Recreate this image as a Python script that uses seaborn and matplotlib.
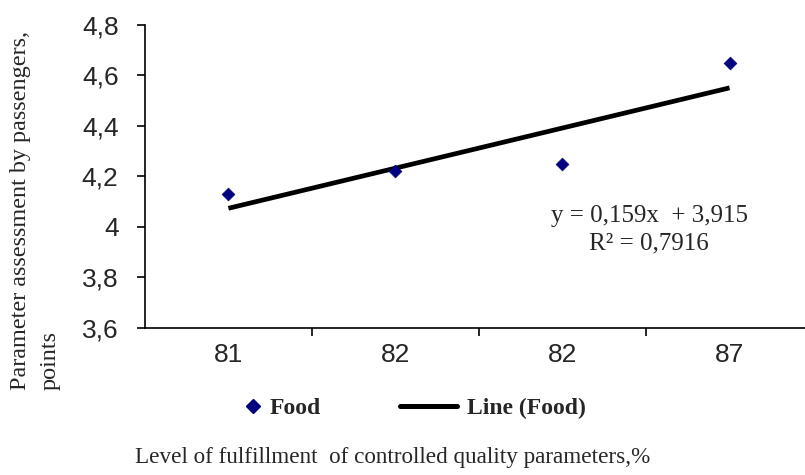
import numpy as np
import pandas as pd
import matplotlib.pyplot as plt
import seaborn as sns
from matplotlib.lines import Line2D

sns.set_theme(style="white")
plt.rcParams["font.family"] = ["Liberation Sans", "DejaVu Sans"]

# data
levels = ["81", "82", "82", "87"]
food = [4.13, 4.22, 4.25, 4.65]
yticks = [3.6, 3.8, 4.0, 4.2, 4.4, 4.6, 4.8]
ytick_labels = ["3,6", "3,8", "4", "4,2", "4,4", "4,6", "4,8"]

df = pd.DataFrame({"pos": np.arange(1, len(levels) + 1), "food": food})

fig = plt.figure(figsize=(8.05, 4.75), dpi=100)
ax = fig.add_axes([0.180, 0.3095, 0.83, 0.6379])

sns.scatterplot(data=df, x="pos", y="food", marker="D", s=42, color="#000080",
                edgecolor="#000080", ax=ax, zorder=3)
sns.regplot(data=df, x="pos", y="food", scatter=False, ci=None, truncate=True,
            line_kws={"color": "black", "lw": 3.4, "solid_capstyle": "butt"}, ax=ax)

# linear trend, Excel style label
slope, intercept = np.polyfit(df["pos"], df["food"], 1)
r2 = np.corrcoef(df["pos"], df["food"])[0, 1] ** 2
eq = f"y = {slope:.3f}x  + {intercept:.3f}".replace(".", ",")
rr = f"R² = {r2:.4f}".replace(".", ",")
ax.text(3.52, 3.99, eq + "\n" + rr, ha="center", va="center", fontsize=18,
        family="Liberation Serif", linespacing=1.33)

ax.set_xlim(0.5, 4.5)
ax.set_ylim(3.6, 4.8)
ax.set_xticks(df["pos"])
ax.set_xticklabels(levels, fontsize=19)
ax.set_xticks(df["pos"][:-1] + 0.5, minor=True)
ax.tick_params(axis="x", which="major", length=0, pad=11)
ax.tick_params(axis="x", which="minor", length=6, width=1.2, color="black", direction="out", bottom=True)
ax.set_yticks(yticks)
ax.set_yticklabels(ytick_labels, fontsize=19)
ax.tick_params(axis="y", length=6, width=1.2, color="black", direction="out", left=True, pad=13)
ax.set_xlabel("")
ax.set_ylabel("")
for s in ["top", "right"]:
    ax.spines[s].set_visible(False)
for s in ["left", "bottom"]:
    ax.spines[s].set_color("black")
    ax.spines[s].set_linewidth(1.2)

leg_font = {"family": "Liberation Serif", "weight": "bold", "size": 17}
leg1 = fig.legend([Line2D([], [], marker="D", ls="none", color="#000080", markersize=7)], ["Food"],
                  loc="center left", bbox_to_anchor=(241 / 805, 1 - 408 / 475), frameon=False,
                  borderaxespad=0, borderpad=0, handlelength=1.0, handletextpad=0.2, prop=leg_font)
leg2 = fig.legend([Line2D([], [], color="black", lw=3.6)], ["Line (Food)"],
                  loc="center left", bbox_to_anchor=(400 / 805, 1 - 408 / 475), frameon=False,
                  borderaxespad=0, borderpad=0, handlelength=2.4, handletextpad=0.45, prop=leg_font)

fig.text(135 / 805, 1 - 457 / 475, "Level of fulfillment  of controlled quality parameters,%",
         ha="left", va="center", fontsize=16.7, family="Liberation Serif")
fig.text(0.012, 1 - 390 / 475, "Parameter assessment by passengers,\npoints", rotation=90,
         ha="left", va="bottom", fontsize=17.4, family="Liberation Serif", multialignment="left",
         linespacing=1.55)

fig.savefig("out.png", dpi=100)
